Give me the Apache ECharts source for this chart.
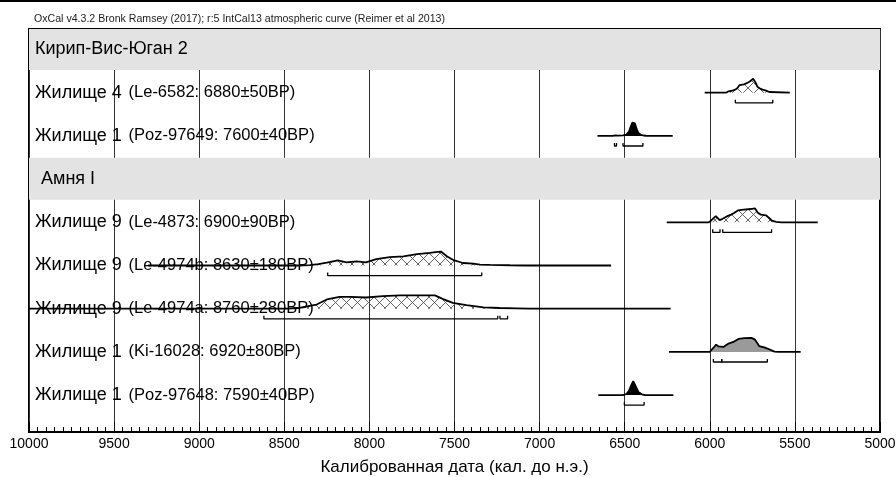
<!DOCTYPE html>
<html>
<head>
<meta charset="utf-8">
<script src="https://cdn.jsdelivr.net/npm/echarts@6/dist/echarts.min.js"></script>
<style>
  html, body { margin: 0; padding: 0; background: #fff; }
  #main { width: 896px; height: 477px; }
</style>
</head>
<body>
<div id="main"></div>
<script>
// --- data ---
const headerText = 'OxCal v4.3.2 Bronk Ramsey (2017); r:5 IntCal13 atmospheric curve (Reimer et al 2013)';
const axisTitle = 'Калиброванная дата (кал. до н.э.)';

// rows top -> bottom: [name, lab code]; lab code null means a site header
const rowNames = ['Кирип-Вис-Юган 2', 'Жилище 4', 'Жилище 1', 'Амня I', 'Жилище 9', 'Жилище 9', 'Жилище 9', 'Жилище 1', 'Жилище 1'];
const rowCodes = [null, '(Le-6582: 6880±50BP)', '(Poz-97649: 7600±40BP)', null, '(Le-4873: 6900±90BP)',
  '(Le-4974b: 8630±180BP)', '(Le-4974a: 8760±280BP)', '(Ki-16028: 6920±80BP)', '(Poz-97648: 7590±40BP)'];

// probability curves, [cal BC, relative density]
const le6582 = [[6030,0],[5905,0],[5890,0.1],[5870,0.14],[5855,0.2],[5840,0.3],[5825,0.55],[5800,0.6],[5783,0.68],
  [5765,0.8],[5745,1.0],[5730,0.7],[5720,0.42],[5705,0.3],[5690,0.22],[5670,0.15],[5650,0.05],[5640,0],[5530,0]];
const poz97649 = [[6660,0],[6570,0],[6555,0.04],[6540,0.02],[6510,0.04],[6490,0.1],[6475,0.3],[6465,0.65],[6455,0.95],
  [6448,1],[6440,0.9],[6430,0.5],[6420,0.22],[6405,0.08],[6390,0.03],[6370,0],[6218,0]];
const le4873 = [[6253,0],[6005,0],[5990,0.15],[5965,0.45],[5955,0.4],[5942,0.15],[5925,0.25],[5900,0.42],[5875,0.55],
  [5860,0.65],[5835,0.85],[5800,0.9],[5760,0.95],[5735,1.0],[5718,0.68],[5700,0.55],[5670,0.5],[5650,0.3],[5635,0.12],
  [5610,0.03],[5580,0],[5366,0]];
const le4974b = [[9300,0],[8420,0],[8350,0.03],[8300,0.1],[8250,0.2],[8185,0.36],[8135,0.22],[8075,0.3],[8020,0.22],
  [7960,0.45],[7880,0.6],[7800,0.66],[7720,0.82],[7645,0.9],[7600,0.97],[7580,1.0],[7545,0.66],[7505,0.38],[7450,0.18],
  [7390,0.13],[7350,0.07],[7290,0.05],[7175,0.02],[7080,0],[6580,0]];
const le4974a = [[10000,0],[8480,0],[8420,0.05],[8360,0.18],[8310,0.3],[8250,0.66],[8175,0.85],[8115,0.85],[8020,0.8],
  [7920,0.9],[7820,0.95],[7720,0.96],[7615,0.95],[7570,0.7],[7510,0.42],[7430,0.25],[7330,0.1],[7235,0.05],[7135,0.03],
  [7060,0],[6230,0]];
const ki16028 = [[6240,0],[6000,0],[5990,0.05],[5975,0.35],[5963,0.52],[5950,0.4],[5944,0.29],[5920,0.36],[5890,0.6],
  [5862,0.71],[5832,0.93],[5795,0.98],[5755,1.0],[5735,0.88],[5710,0.42],[5680,0.33],[5648,0.17],[5620,0.02],[5600,0],[5466,0]];
const poz97648 = [[6655,0],[6510,0],[6490,0.08],[6475,0.3],[6462,0.7],[6450,1.0],[6440,0.9],[6430,0.5],[6418,0.2],
  [6400,0.06],[6380,0],[6214,0]];

// 95.4% ranges, [from, to] cal BC
const rng6582 = [[5850,5630]];
const rng97649 = [[6560,6548],[6510,6393]];
const rng4873 = [[5983,5940],[5924,5637]];
const rng4974b = [[8245,7340]];
const rng4974a = [[8620,7246],[7233,7188]];
const rng16028 = [[5979,5930],[5930,5662]];
const rng97648 = [[6502,6386]];

// which row each sample sits on, and how it is filled
const samples = [
  { row: 1, curve: le6582, ranges: rng6582, fill: 'hatch' },
  { row: 2, curve: poz97649, ranges: rng97649, fill: '#000' },
  { row: 4, curve: le4873, ranges: rng4873, fill: 'hatch' },
  { row: 5, curve: le4974b, ranges: rng4974b, fill: 'hatch' },
  { row: 6, curve: le4974a, ranges: rng4974a, fill: 'hatch' },
  { row: 7, curve: ki16028, ranges: rng16028, fill: '#9a9a9a' },
  { row: 8, curve: poz97648, ranges: rng97648, fill: '#000' }
];
const headerRows = [0, 3];

// --- layout ---
const gridTop = 29, gridBottomPx = 432, rowH = 43.2;
const rowsSpan = (gridBottomPx - gridTop) / rowH;
function rowY(i) { return gridTop + (i + 0.475) * rowH; }

// cross-hatch pattern
const hatch = document.createElement('canvas');
hatch.width = 11; hatch.height = 11;
(function () {
  const c = hatch.getContext('2d');
  c.strokeStyle = '#555';
  c.lineWidth = 0.9;
  c.beginPath();
  c.moveTo(0, 0); c.lineTo(11, 11);
  c.moveTo(11, 0); c.lineTo(0, 11);
  c.stroke();
})();

var chart = echarts.init(document.getElementById('main'));

var grids = [{
  left: 29, right: 16, top: gridTop, bottom: 477 - gridBottomPx, outerBoundsMode: 'none', containLabel: false,
  show: true, borderColor: '#000', borderWidth: 2, backgroundColor: 'transparent'
}];
var xAxes = [{
  type: 'value', gridIndex: 0, min: 5000, max: 10000, interval: 500, inverse: true,
  axisLine: { show: true, onZero: false, lineStyle: { color: '#000', width: 2 } },
  axisTick: { show: true, inside: true, length: 10, lineStyle: { color: '#000' } },
  minorTick: { show: true, splitNumber: 10, length: 5, lineStyle: { color: '#000' } },
  splitLine: { show: true, lineStyle: { color: '#333', width: 1 } },
  axisLabel: { color: '#000', fontSize: 14, margin: 5, fontFamily: 'Liberation Sans', formatter: function (v) { return String(v); } },
  name: axisTitle, nameLocation: 'middle', nameGap: 27,
  nameTextStyle: { color: '#000', fontSize: 17, fontFamily: 'Liberation Sans' }
}];
var yAxes = [{ type: 'value', gridIndex: 0, min: 0, max: rowsSpan, inverse: true, show: false }];

var series = [{
  type: 'line', xAxisIndex: 0, yAxisIndex: 0, data: [], z: -1, silent: true,
  markArea: {
    silent: true,
    itemStyle: { color: '#e3e3e3' },
    data: headerRows.map(function (r) { return [{ yAxis: Math.max(0, r - 0.02) }, { yAxis: r + 0.95 }]; })
  }
}];

samples.forEach(function (s, k) {
  var gi = k + 1;
  var base = rowY(s.row);
  grids.push({ left: 29, right: 16, top: base - 20, height: 34, show: false, outerBoundsMode: 'none', containLabel: false });
  xAxes.push({ type: 'value', gridIndex: gi, min: 5000, max: 10000, inverse: true, show: false });
  yAxes.push({ type: 'value', gridIndex: gi, min: -1, max: 20 / 14, show: false });
  series.push({
    type: 'line', xAxisIndex: gi, yAxisIndex: gi, data: s.curve, symbol: 'none', smooth: false,
    lineStyle: { color: '#000', width: 1.8 },
    areaStyle: { opacity: 1, color: s.fill === 'hatch' ? { image: hatch, repeat: 'repeat' } : s.fill },
    z: 3, silent: true
  });
  s.ranges.forEach(function (r) {
    series.push({
      type: 'line', xAxisIndex: gi, yAxisIndex: gi, symbol: 'none', silent: true,
      data: [[r[0], -0.5], [r[0], -0.72], [r[1], -0.72], [r[1], -0.5]],
      lineStyle: { color: '#000', width: 1.3 }, z: 3
    });
  });
});

var labels = rowNames.map(function (n, i) {
  var isHeader = rowCodes[i] === null;
  return {
    type: 'text', left: isHeader && i === 3 ? 41 : 35, top: rowY(i) - 9, z: 10, silent: true,
    style: {
      text: isHeader ? '{a|' + n + '}' : '{a|' + n + '}  {b|' + rowCodes[i] + '}',
      rich: {
        a: { fontSize: 18, fontFamily: 'Liberation Sans', fill: '#000', lineHeight: 22 },
        b: { fontSize: 16.5, fontFamily: 'Liberation Sans', fill: '#000', lineHeight: 22 }
      }
    }
  };
});
labels.push({ type: 'rect', left: 0, top: 0, shape: { width: 896, height: 2 }, style: { fill: '#000' } });

chart.setOption({
  animation: false,
  backgroundColor: '#fff',
  title: {
    text: headerText, left: 29, top: 9,
    textStyle: { fontSize: 10.6, fontWeight: 'normal', color: '#222', fontFamily: 'Liberation Sans' }
  },
  grid: grids,
  xAxis: xAxes,
  yAxis: yAxes,
  series: series,
  graphic: labels
});
</script>
</body>
</html>
